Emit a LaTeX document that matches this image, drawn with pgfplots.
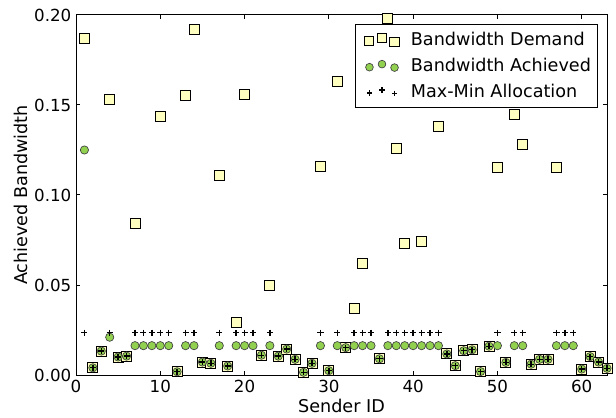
\documentclass[border=0pt]{standalone}
\usepackage{pgfplots}
\pgfplotsset{compat=1.18}
\usepackage{fontspec}
\setmainfont{DejaVu Sans}
\definecolor{dem}{RGB}{255,255,191}
\definecolor{ach}{RGB}{146,208,80}
\begin{document}
\begin{tikzpicture}
\path[use as bounding box] (-57pt,-31.5pt) rectangle (405pt,281.25pt);
\begin{axis}[
  at={(0pt,0pt)}, anchor=south west,
  scale only axis, width=398.25pt, height=270pt,
  xmin=0, xmax=63, ymin=0, ymax=0.2,
  xtick={0,10,20,30,40,50,60},
  ytick={0,0.05,0.1,0.15,0.2},
  scaled y ticks=false,
  yticklabel style={/pgf/number format/.cd,fixed,fixed zerofill,precision=2},
  /pgf/number format/assume math mode=true,
  tick align=inside, tick pos=both,
  major tick length=3.25pt,
  every tick/.style={black, line width=0.75pt},
  axis line style={line width=0.75pt},
  tick label style={font=\fontsize{12.5}{15}\selectfont},
  label style={font=\fontsize{13.2}{15.8}\selectfont},
  xlabel={Sender ID}, ylabel={Achieved Bandwidth},
  xlabel style={yshift=2pt},
  ylabel style={yshift=-2pt},
  legend style={at={(0.983,0.975)}, anchor=north east,
    draw=black, line width=0.6pt, font=\fontsize{13.2}{15.8}\selectfont, row sep=3.8pt,
    inner xsep=3pt, inner ysep=4pt,
    cells={anchor=west},
    /tikz/every odd column/.append style={column sep=0pt}},
  clip mode=global,
]
\addplot[only marks, mark=square*, mark size=3.75pt,
  mark options={fill=dem, draw=black, line width=0.75pt},
  legend image code/.code={\path (-7.3pt,0pt) (28.8pt,0pt);\draw[only marks, mark size=3.4pt] plot coordinates {(0pt,-1pt)(9.4pt,1.3pt)(18.8pt,-1.3pt)};}]
coordinates {
(1,0.1867)(2,0.004)(3,0.0133)(4,0.153)(5,0.010)(6,0.0105)(7,0.0843)(10,0.1435)
(12,0.0018)(13,0.155)(14,0.192)(15,0.0072)(16,0.0065)(17,0.111)(18,0.005)(19,0.029)
(20,0.1557)(22,0.011)(23,0.050)(24,0.0105)(25,0.0144)(26,0.0087)(27,0.0015)(28,0.0065)
(29,0.116)(30,0.0024)(31,0.163)(32,0.0152)(33,0.0367)(34,0.0617)(36,0.009)(37,0.198)
(38,0.1256)(39,0.0732)(41,0.0743)(43,0.138)(44,0.0117)(45,0.0052)(46,0.0135)(47,0.014)
(48,0.0019)(49,0.016)(50,0.115)(51,0.007)(52,0.1448)(53,0.128)(54,0.006)(55,0.0087)
(56,0.0087)(57,0.115)(60,0.0033)(61,0.0102)(62,0.0072)(63,0.0037)
};
\addlegendentry{Bandwidth Demand}
\addplot[only marks, mark=*, mark size=3.1pt,
  mark options={fill=ach, draw=black!75, line width=0.5pt},
  legend image code/.code={\path (-7.3pt,0pt) (28.8pt,0pt);\draw[only marks, mark size=2.9pt] plot coordinates {(0pt,-1pt)(9.4pt,1.3pt)(18.8pt,-1.3pt)};}]
coordinates {
(1,0.125)(2,0.004)(3,0.0133)(4,0.021)(5,0.010)(6,0.0105)(7,0.0163)(8,0.0163)
(9,0.0163)(10,0.0163)(11,0.0163)(12,0.0018)(13,0.0163)(14,0.0163)(15,0.0072)(16,0.0065)
(17,0.0163)(18,0.005)(19,0.0163)(20,0.0163)(21,0.0163)(22,0.011)(23,0.0163)(24,0.0105)
(25,0.0144)(26,0.0087)(27,0.0015)(28,0.0065)(29,0.0163)(30,0.0024)(31,0.0163)(32,0.0152)
(33,0.0163)(34,0.0163)(35,0.0163)(36,0.009)(37,0.0163)(38,0.0163)(39,0.0163)(40,0.0163)
(41,0.0163)(42,0.0163)(43,0.0163)(44,0.0117)(45,0.0052)(46,0.0135)(47,0.014)(48,0.0019)
(49,0.016)(50,0.0163)(51,0.007)(52,0.0163)(53,0.0163)(54,0.006)(55,0.0087)(56,0.0087)
(57,0.0163)(58,0.0163)(59,0.0163)(60,0.0033)(61,0.0102)(62,0.0072)(63,0.0037)
};
\addlegendentry{Bandwidth Achieved}
\addplot[only marks, mark=+, mark size=2.3pt,
  mark options={draw=black, line width=1pt},
  legend image code/.code={\path (-7.3pt,0pt) (28.8pt,0pt);\draw[only marks, mark size=2pt] plot coordinates {(0pt,-1pt)(9.4pt,1.3pt)(18.8pt,-1.3pt)};}]
coordinates {
(1,0.0235)(2,0.004)(3,0.0133)(4,0.0235)(5,0.010)(6,0.0105)(7,0.0235)(8,0.0235)
(9,0.0235)(10,0.0235)(11,0.0235)(12,0.0018)(13,0.0235)(14,0.0235)(15,0.0072)(16,0.0065)
(17,0.0235)(18,0.005)(19,0.0235)(20,0.0235)(21,0.0235)(22,0.011)(23,0.0235)(24,0.0105)
(25,0.0144)(26,0.0087)(27,0.0015)(28,0.0065)(29,0.0235)(30,0.0024)(31,0.0235)(32,0.0152)
(33,0.0235)(34,0.0235)(35,0.0235)(36,0.009)(37,0.0235)(38,0.0235)(39,0.0235)(40,0.0235)
(41,0.0235)(42,0.0235)(43,0.0235)(44,0.0117)(45,0.0052)(46,0.0135)(47,0.014)(48,0.0019)
(49,0.016)(50,0.0235)(51,0.007)(52,0.0235)(53,0.0235)(54,0.006)(55,0.0087)(56,0.0087)
(57,0.0235)(58,0.0235)(59,0.0235)(60,0.0033)(61,0.0102)(62,0.0072)(63,0.0037)
};
\addlegendentry{Max-Min Allocation}
\end{axis}
\end{tikzpicture}
\end{document}
